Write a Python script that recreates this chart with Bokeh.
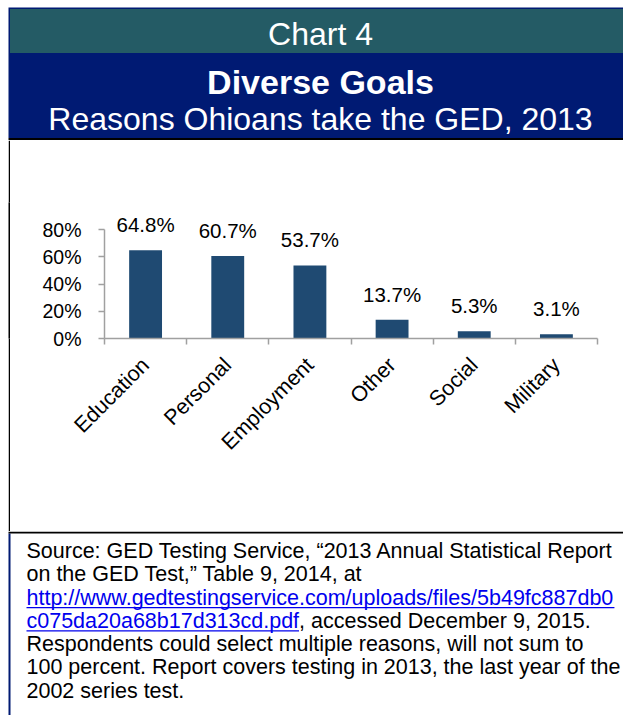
import math
from bokeh.plotting import figure
from bokeh.models import (ColumnDataSource, Range1d, LinearAxis, Label,
                          FixedTicker, PrintfTickFormatter, LabelSet)
from bokeh.layouts import column, row
from bokeh.core.properties import value
from bokeh.embed import file_html
from bokeh.resources import INLINE

# ---- data ----
categories = ["Education", "Personal", "Employment", "Other", "Social", "Military"]
shares = [64.8, 60.7, 53.7, 13.7, 5.3, 3.1]
y_ticks = [0, 20, 40, 60, 80]

header_label = "Chart 4"
title_text = "Diverse Goals"
subtitle_text = "Reasons Ohioans take the GED, 2013"
source_lines = [
    "Source: GED Testing Service, \u201c2013 Annual Statistical Report",
    "on the GED Test,\u201d Table 9, 2014, at",
]
link_line_1 = "http://www.gedtestingservice.com/uploads/files/5b49fc887db0"
link_line_2 = "c075da20a68b17d313cd.pdf"
after_link = ", accessed December 9, 2015."
note_lines = [
    "Respondents could select multiple reasons, will not sum to",
    "100 percent. Report covers testing in 2013, the last year of the",
    "2002 series test.",
]

FONTNAME = "Liberation Sans"
FONT = value(FONTNAME)
TEAL = "#245b65"
NAVY = "#001a73"
BAR = "#1f4a72"
AXIS = "#a0a0a0"
LINK = "#0000ee"
W = 623
MID = 0.35  # label anchor sits at the text middle; shift to reach the baseline


def blank(fig, color="white"):
    fig.outline_line_color = None
    fig.grid.visible = False
    fig.background_fill_color = color
    fig.border_fill_color = color


# ---- header (page y 0..140) ----
HH = 140
hdr = figure(width=W, height=HH, x_range=Range1d(0, W), y_range=Range1d(0, HH),
             output_backend="svg", toolbar_location=None, min_border=0,
             x_axis_type=None, y_axis_type=None)
blank(hdr)
hdr.quad(left=[8], right=[W], bottom=[HH - 137.5], top=[HH - 7], color=NAVY, line_color=None)
hdr.quad(left=[9.5], right=[W], bottom=[HH - 52.5], top=[HH - 8.5], color=TEAL, line_color=None)
hdr.quad(left=[8], right=[W], bottom=[0], top=[HH - 137.5], color="black", line_color=None)


def hlabel(txt, base, size, bold=False):
    hdr.add_layout(Label(x=320, y=HH - base + MID * size, text=txt, text_font=FONTNAME,
                         text_font_size=f"{size}px",
                         text_font_style="bold" if bold else "normal",
                         text_color="white", text_align="center",
                         text_baseline="alphabetic"))


hlabel(header_label, 45, 32)
hlabel(title_text, 93.3, 34, bold=True)
hlabel(subtitle_text, 130, 32)

# ---- chart (page y 140..531) ----
n = len(categories)
src = ColumnDataSource(dict(pos=list(range(n)), cat=categories, val=shares,
                            lbl=[f"{v:.1f}%" for v in shares]))

CH, BT, BB = 391, 62, 193
p = figure(width=613, height=CH, x_range=Range1d(-0.5, n - 0.5),
           y_range=Range1d(0, 100), output_backend="svg", toolbar_location=None,
           x_axis_type=None, min_border_left=94, min_border_right=26,
           min_border_top=BT, min_border_bottom=BB)
blank(p)

p.vbar(x="pos", top="val", width=0.4, source=src, color=BAR, line_color=None)
p.add_layout(LabelSet(x="pos", y="val", text="lbl", source=src, y_offset=18,
                      text_align="center", text_baseline="alphabetic",
                      text_font=FONT, text_font_size="20.5px", text_color="black"))

xaxis = LinearAxis(ticker=FixedTicker(ticks=list(range(n)),
                                      minor_ticks=[i - 0.5 for i in range(n + 1)]),
                   major_label_overrides={i: c for i, c in enumerate(categories)})
xaxis.major_label_orientation = math.pi / 4
xaxis.major_tick_line_color = None
xaxis.minor_tick_in = 0
xaxis.minor_tick_out = 6
xaxis.minor_tick_line_color = AXIS
xaxis.minor_tick_line_width = 1.5
xaxis.axis_line_color = AXIS
xaxis.axis_line_width = 1.5
xaxis.major_label_text_font = FONTNAME
xaxis.major_label_text_font_size = "21.5px"
xaxis.major_label_text_color = "black"
xaxis.major_label_standoff = 17
p.add_layout(xaxis, "below")

ya = p.yaxis[0]
ya.ticker = FixedTicker(ticks=y_ticks)
ya.formatter = PrintfTickFormatter(format="%d%%")
ya.bounds = (y_ticks[0], y_ticks[-1])
ya.major_tick_in = 0
ya.major_tick_out = 6
ya.minor_tick_out = 0
ya.minor_tick_in = 0
ya.major_tick_line_color = AXIS
ya.major_tick_line_width = 1.5
ya.axis_line_color = AXIS
ya.axis_line_width = 1.5
ya.major_label_text_font = FONTNAME
ya.major_label_text_font_size = "19.5px"
ya.major_label_text_color = "black"
ya.major_label_standoff = 17

# left margin and black frame edge beside the chart (same vertical borders as chart)
pad = figure(width=8, height=CH, output_backend="svg", toolbar_location=None,
             min_border_left=0, min_border_right=0, min_border_top=BT,
             min_border_bottom=BB, x_axis_type=None, y_axis_type=None)
blank(pad, "white")
edge = figure(width=2, height=CH, output_backend="svg", toolbar_location=None,
              min_border_left=0, min_border_right=0, min_border_top=BT,
              min_border_bottom=BB, x_axis_type=None, y_axis_type=None)
blank(edge, "black")

# ---- footer (page y 531..715) ----
FH = 184
ftr = figure(width=W, height=FH, x_range=Range1d(0, W), y_range=Range1d(0, FH),
             output_backend="svg", toolbar_location=None, min_border=0,
             x_axis_type=None, y_axis_type=None)
blank(ftr)
ftr.quad(left=[8], right=[10], bottom=[0], top=[FH - 2], color=NAVY, line_color=None)
ftr.quad(left=[8], right=[W], bottom=[FH - 2], top=[FH], color="black", line_color=None)

FS = 21.5
LX = 26
base = [FH - (27 + 23.3 * i) for i in range(7)]


def flabel(txt, x, y, color="black"):
    ftr.add_layout(Label(x=x, y=y + MID * FS, text=txt, text_font=FONTNAME,
                         text_font_size=f"{FS}px", text_color=color,
                         text_align="left", text_baseline="alphabetic"))


flabel(source_lines[0], LX, base[0])
flabel(source_lines[1], LX, base[1])
flabel(link_line_1, LX, base[2], LINK)
flabel(link_line_2, LX, base[3], LINK)
w1 = 27.346 * FS
w2 = 12.676 * FS
ftr.segment(x0=[LX, LX], x1=[LX + w1, LX + w2], y0=[base[2] - 2.5, base[3] - 2.5],
            y1=[base[2] - 2.5, base[3] - 2.5], line_color=LINK, line_width=1.2)
flabel(after_link, LX + w2, base[3])
for i, t in enumerate(note_lines):
    flabel(t, LX, base[4 + i])

layout = column(hdr, row(pad, edge, p), ftr)
open("out.html", "w").write(file_html(layout, INLINE))
